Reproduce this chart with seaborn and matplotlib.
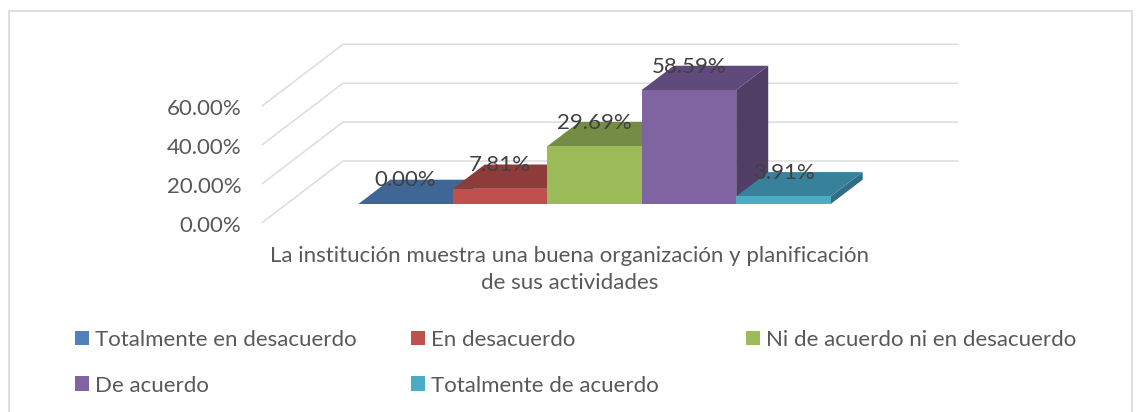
import matplotlib
matplotlib.use("Agg")
import matplotlib.pyplot as plt
import seaborn as sns
from matplotlib.lines import Line2D
from matplotlib.patches import Patch, Polygon

categories = ["Totalmente en desacuerdo", "En desacuerdo", "Ni de acuerdo ni en desacuerdo",
              "De acuerdo", "Totalmente de acuerdo"]
values = [0.00, 7.81, 29.69, 58.59, 3.91]
y_ticks = [0, 20, 40, 60]
chart_label = "La institución muestra una buena organización y planificación\nde sus actividades"

front_colors = ["#4F81BD", "#C0504D", "#9BBB59", "#8064A2", "#4BACC6"]
top_colors = ["#3F6694", "#8E3B39", "#748C43", "#604A7B", "#38819A"]
side_colors = ["#355780", "#7C3331", "#647A3A", "#513E66", "#2F6E84"]

W, H = 1139, 412
PX_PER_PCT = 1.945
BAR_PX = 94.5
FONT = 16


def px_rect(left, top, right, bottom):
    return [left / W, 1 - bottom / H, (right - left) / W, (bottom - top) / H]


sns.set_theme(style="white")
plt.rcParams["font.family"] = ["Lato", "DejaVu Sans"]

fig = plt.figure(figsize=(W / 100, H / 100), dpi=100, facecolor="white")

# axes sits on the front plane of the bars, depth is faked with a shear
ax = fig.add_axes(px_rect(358.3, 44, 830.7, 204))
sns.barplot(x=categories, y=values, hue=categories, palette=front_colors, order=categories,
            hue_order=categories, width=1, dodge=False, saturation=1, legend=False, ax=ax, zorder=3)
ax.set_xlim(-0.5, 4.5)
ax.set_ylim(0, 160 / PX_PER_PCT)
ax.axis("off")

# bar depth, in data units
bar_dx = 32 / BAR_PX
bar_dy = 24.3 / PX_PER_PCT

# wall gridlines: floor edge, back corner, right end
front_x = -0.5 - 96.3 / BAR_PX
back_x = -0.5 - 15.3 / BAR_PX
end_x = 4.5 + 127.3 / BAR_PX
front_dy = -18.7 / PX_PER_PCT
back_dy = 43 / PX_PER_PCT
for t in y_ticks:
    ax.plot([front_x, back_x, end_x], [t + front_dy, t + back_dy, t + back_dy],
            color="#DEDEDE", lw=1.15, clip_on=False, zorder=1, solid_joinstyle="miter")

bars = [p for p in ax.patches if p.get_width() > 0]
bars.sort(key=lambda p: p.get_x())
for i, bar in enumerate(bars):
    x0 = bar.get_x()
    x1 = x0 + bar.get_width()
    h = bar.get_height()
    z = 3 + i
    bar.set_zorder(z + 0.2)
    bar.set_linewidth(0)
    bar.set_clip_on(False)
    top = Polygon([(x0, h), (x1, h), (x1 + bar_dx, h + bar_dy), (x0 + bar_dx, h + bar_dy)],
                  facecolor=top_colors[i], edgecolor="none", zorder=z, clip_on=False)
    side = Polygon([(x1, 0), (x1 + bar_dx, bar_dy), (x1 + bar_dx, h + bar_dy), (x1, h)],
                   facecolor=side_colors[i], edgecolor="none", zorder=z, clip_on=False)
    ax.add_patch(side)
    ax.add_patch(top)
    ax.annotate(f"{values[i]:.2f}%", (x0 + 0.5, h), xytext=(0, 23.5 * 0.72), textcoords="offset points",
                ha="center", va="center", fontsize=FONT, color="#404040", zorder=20,
                annotation_clip=False)

# value axis labels sit on the floor edge, in front of the bars
tick_ax = fig.add_axes(px_rect(246, 44 + 19.7, 300, 204 + 19.7))
tick_ax.set_ylim(0, 160 / PX_PER_PCT)
tick_ax.set_yticks(y_ticks)
tick_ax.set_yticklabels([f"{t:.2f}%" for t in y_ticks], fontsize=FONT, color="#595959")
tick_ax.tick_params(axis="y", length=0, pad=3.5)
tick_ax.set_xticks([])
tick_ax.patch.set_alpha(0)
sns.despine(ax=tick_ax, left=True, bottom=True)

fig.text(570 / W, 1 - 269.5 / H, chart_label, ha="center", va="center", fontsize=FONT,
         color="#595959", linespacing=1.38)

# legend columns are on an even grid, one legend per column
handles = [Patch(facecolor=c, edgecolor="none") for c in front_colors]
columns = [([0, 3], 75), ([1, 4], 411), ([2], 746)]
for idx, left in columns:
    leg = fig.legend([handles[i] for i in idx], [categories[i] for i in idx],
                     loc="upper left", bbox_to_anchor=(left / W, 1 - 330 / H), frameon=False,
                     fontsize=FONT, borderpad=0, borderaxespad=0, handlelength=0.63, handleheight=0.63,
                     handletextpad=0.25, labelspacing=1.15, labelcolor="#595959")

# chart frame runs off the bottom of the picture
fig.add_artist(Line2D([8.5 / W, 8.5 / W, 1131.5 / W, 1131.5 / W],
                      [0, 1 - 11 / H, 1 - 11 / H, 0], color="#D9D9D9", lw=1.2,
                      transform=fig.transFigure, solid_joinstyle="miter"))

fig.savefig("out.png", dpi=100)
